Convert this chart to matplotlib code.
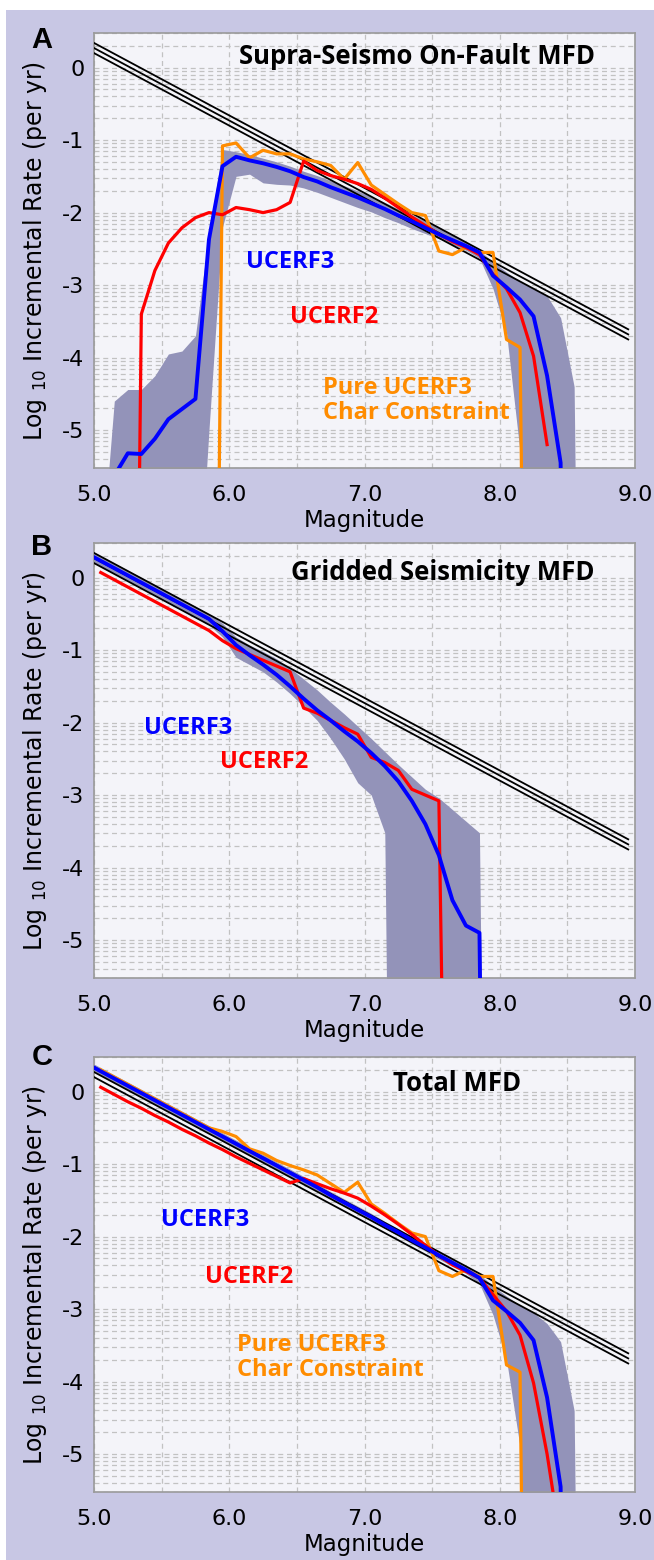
import numpy as np
import matplotlib
matplotlib.use("Agg")
import matplotlib.pyplot as plt
from matplotlib.ticker import FixedLocator, FuncFormatter, NullFormatter
from matplotlib.patches import Rectangle

plt.rcParams['font.family'] = ['DejaVu Sans']
plt.rcParams['mathtext.fontset'] = 'dejavusans'
plt.rcParams['mathtext.default'] = 'regular'

# log10 incremental rates (per yr), on 0.1-magnitude bins.
# Z marks an empty bin (rate ~ 0), nan marks "not plotted"
Z = -20.0
nan = np.nan

mags = [4.95, 5.05, 5.15, 5.25, 5.35, 5.45, 5.55, 5.65, 5.75, 5.85,
        5.95, 6.05, 6.15, 6.25, 6.35, 6.45, 6.55, 6.65, 6.75, 6.85,
        6.95, 7.05, 7.15, 7.25, 7.35, 7.45, 7.55, 7.65, 7.75, 7.85,
        7.95, 8.05, 8.15, 8.25, 8.35, 8.45, 8.55, 8.65]

# Gutenberg-Richter reference lines (b = 1)
gr_mag = [5.0, 8.95]
gr_hi = [0.34, -3.61]
gr_mid = [0.27, -3.68]
gr_lo = [0.20, -3.75]

# ---- A: supra-seismogenic on-fault MFD
a_ucerf3 = [nan, nan, -5.63, -5.32, -5.33, -5.12, -4.85, -4.71, -4.57, -2.37,
            -1.36, -1.23, -1.28, -1.32, -1.37, -1.43, -1.51, -1.57, -1.65, -1.72,
            -1.79, -1.87, -1.95, -2.04, -2.12, -2.21, -2.30, -2.38, -2.46, -2.55,
            -2.87, -3.03, -3.20, -3.43, -4.25, -5.45, Z, nan]
a_ucerf2 = [nan, nan, nan, Z, -3.40, -2.80, -2.42, -2.21, -2.07, -2.00,
            -2.03, -1.93, -1.96, -2.00, -1.96, -1.86, -1.29, -1.42, -1.49, -1.54,
            -1.60, -1.68, -1.80, -1.93, -2.06, -2.18, -2.30, -2.40, -2.48, -2.58,
            -2.85, -3.05, -3.38, -3.98, -5.20, nan, nan, nan]
a_char = [nan, nan, nan, nan, nan, nan, nan, nan, nan, Z,
          -1.08, -1.04, -1.245, -1.14, -1.19, -1.19, -1.26, -1.30, -1.35, -1.54,
          -1.31, -1.62, -1.75, -1.88, -2.00, -2.04, -2.53, -2.58, -2.48, -2.55,
          -2.55, -3.75, -3.86, Z, nan, nan, nan, nan]
a_band_hi = [nan, -6.9, -4.60, -4.44, -4.44, -4.25, -3.95, -3.91, -3.70, -2.28,
             -1.13, -1.16, -1.20, -1.25, -1.30, -1.36, -1.43, -1.49, -1.56, -1.63,
             -1.70, -1.78, -1.86, -1.95, -2.03, -2.12, -2.21, -2.30, -2.40, -2.52,
             -2.68, -2.82, -2.95, -3.05, -3.15, -3.45, -4.40, Z]
a_band_lo = [nan, -8.0, -8.0, -8.0, -8.0, -8.0, -8.0, -8.0, -8.0, -5.0,
             -2.2, -1.50, -1.47, -1.59, -1.61, -1.62, -1.66, -1.72, -1.79, -1.86,
             -1.93, -1.99, -2.07, -2.14, -2.22, -2.29, -2.36, -2.44, -2.52, -2.63,
             -3.05, -3.66, -5.30, Z, Z, Z, Z, Z]

# ---- B: gridded seismicity MFD
b_ucerf3 = [0.33, 0.23, 0.13, 0.03, -0.07, -0.17, -0.27, -0.37, -0.47, -0.57,
            -0.74, -0.93, -1.07, -1.20, -1.34, -1.50, -1.67, -1.83, -1.97, -2.12,
            -2.26, -2.42, -2.60, -2.81, -3.08, -3.40, -3.83, -4.45, -4.80, -4.90,
            Z, nan, nan, nan, nan, nan, nan, nan]
b_ucerf2 = [nan, 0.07, -0.03, -0.13, -0.23, -0.33, -0.43, -0.53, -0.63, -0.73,
            -0.87, -0.98, -1.06, -1.14, -1.22, -1.30, -1.80, -1.87, -1.97, -2.07,
            -2.16, -2.48, -2.55, -2.66, -2.92, -3.00, -3.08, -15.0, nan, nan,
            nan, nan, nan, nan, nan, nan, nan, nan]
b_band_hi = [0.40, 0.30, 0.20, 0.10, 0.00, -0.10, -0.20, -0.30, -0.40, -0.50,
             -0.63, -0.82, -0.93, -1.02, -1.12, -1.25, -1.40, -1.55, -1.72, -1.88,
             -2.05, -2.22, -2.40, -2.58, -2.75, -2.92, -3.04, -3.20, -3.36, -3.52,
             Z, nan, nan, nan, nan, nan, nan, nan]
b_band_lo = [0.25, 0.15, 0.05, -0.05, -0.15, -0.25, -0.35, -0.45, -0.55, -0.65,
             -0.82, -1.10, -1.20, -1.30, -1.44, -1.60, -1.78, -1.97, -2.22, -2.50,
             -2.83, -3.00, -3.52, Z, Z, Z, Z, Z, Z, Z,
             Z, nan, nan, nan, nan, nan, nan, nan]

# ---- C: total MFD
c_ucerf3 = [0.38, 0.28, 0.18, 0.08, -0.02, -0.12, -0.22, -0.32, -0.42, -0.52,
            -0.62, -0.72, -0.82, -0.92, -1.02, -1.12, -1.22, -1.32, -1.43, -1.53,
            -1.63, -1.73, -1.84, -1.94, -2.05, -2.15, -2.26, -2.36, -2.46, -2.57,
            -2.88, -3.03, -3.19, -3.43, -4.22, -5.45, Z, nan]
c_ucerf2 = [nan, 0.06, -0.04, -0.14, -0.23, -0.33, -0.42, -0.52, -0.61, -0.71,
            -0.80, -0.90, -0.99, -1.08, -1.17, -1.26, -1.20, -1.27, -1.34, -1.40,
            -1.47, -1.58, -1.70, -1.83, -1.97, -2.12, -2.26, -2.39, -2.48, -2.57,
            -2.80, -3.03, -3.36, -4.02, -5.00, -6.20, nan, nan]
c_char = [nan, 0.30, 0.20, 0.10, 0.00, -0.10, -0.20, -0.30, -0.40, -0.50,
          -0.55, -0.62, -0.79, -0.85, -0.95, -1.02, -1.08, -1.15, -1.27, -1.39,
          -1.25, -1.55, -1.68, -1.82, -1.95, -2.00, -2.47, -2.55, -2.46, -2.55,
          -2.55, -3.77, -3.87, Z, nan, nan, nan, nan]
c_band_hi = [0.43, 0.33, 0.23, 0.13, 0.03, -0.07, -0.17, -0.27, -0.37, -0.47,
             -0.57, -0.67, -0.77, -0.87, -0.97, -1.07, -1.17, -1.27, -1.38, -1.48,
             -1.58, -1.68, -1.79, -1.89, -2.00, -2.10, -2.21, -2.31, -2.41, -2.52,
             -2.68, -2.82, -2.95, -3.05, -3.20, -3.45, -4.40, Z]
c_band_lo = [0.33, 0.23, 0.13, 0.03, -0.07, -0.17, -0.27, -0.37, -0.47, -0.57,
             -0.67, -0.77, -0.87, -0.97, -1.07, -1.17, -1.27, -1.37, -1.48, -1.58,
             -1.68, -1.78, -1.89, -1.99, -2.10, -2.20, -2.31, -2.41, -2.51, -2.65,
             -3.08, -3.70, -4.90, Z, Z, Z, Z, Z]

x_ticks = [5.0, 6.0, 7.0, 8.0, 9.0]
x_tick_labels = ['5.0', '6.0', '7.0', '8.0', '9.0']
y_decades = [-5, -4, -3, -2, -1, 0]

BG = '#c8c7e4'
FACE = '#f4f4f9'
BAND = '#9393b9'
BLUE = '#0000ff'
RED = '#ff0000'
ORANGE = '#ff8c00'
GRID = '#c2c2c2'

fig = plt.figure(figsize=(6.54, 15.6), dpi=100, facecolor='white')
fig.add_artist(Rectangle((6 / 654, 0), 1, 1 - 10 / 1560, transform=fig.transFigure,
                         facecolor=BG, edgecolor='none', zorder=-10))


def to_rate(v):
    return 10.0 ** np.array(v, dtype=float)


def setup_axes(ax):
    ax.set_facecolor(FACE)
    ax.set_yscale('log')
    ax.set_xlim(5.0, 9.0)
    ax.set_ylim(3e-6, 3.0)
    ax.xaxis.set_major_locator(FixedLocator(x_ticks))
    ax.xaxis.set_minor_locator(FixedLocator([5.5, 6.5, 7.5, 8.5]))
    ax.set_xticklabels(x_tick_labels)
    ax.yaxis.set_major_locator(FixedLocator([10.0 ** d for d in y_decades]))
    ax.yaxis.set_major_formatter(FuncFormatter(lambda v, p: '%d' % round(np.log10(v))))
    ax.yaxis.set_minor_locator(FixedLocator([k * 10.0 ** d for d in range(-6, 1) for k in range(2, 10)]))
    ax.yaxis.set_minor_formatter(NullFormatter())
    ax.grid(True, which='both', color=GRID, linestyle=(0, (4, 3)), linewidth=0.9, zorder=0)
    ax.set_axisbelow(True)
    ax.tick_params(axis='both', which='both', length=0, labelsize=16)
    ax.tick_params(axis='x', pad=12)
    ax.tick_params(axis='y', pad=7)
    for s in ax.spines.values():
        s.set_color('#9a9a9a')
        s.set_linewidth(1.2)
    ax.set_xlabel('Magnitude', fontsize=16.5, labelpad=3)
    ax.set_ylabel('Log $_{10}$ Incremental Rate (per yr)', fontsize=17)
    ax.yaxis.set_label_coords(-0.083, 0.5)


def draw_gr(ax):
    for g in (gr_hi, gr_mid, gr_lo):
        ax.plot(gr_mag, to_rate(g), color='black', linewidth=1.3, zorder=3)


bold = dict(family='Open Sans', fontweight='bold')
axes_h = 435 / 1560
axes_w = 541 / 654
left = 94 / 654

# panel A
axA = fig.add_axes([left, 1 - 468 / 1560, axes_w, axes_h])
setup_axes(axA)
axA.fill_between(mags, to_rate(a_band_lo), to_rate(a_band_hi), color=BAND, linewidth=0, zorder=2)
draw_gr(axA)
axA.plot(mags, to_rate(a_char), color=ORANGE, linewidth=2.3, zorder=4)
axA.plot(mags, to_rate(a_ucerf2), color=RED, linewidth=2.3, zorder=5)
axA.plot(mags, to_rate(a_ucerf3), color=BLUE, linewidth=2.8, zorder=6)
axA.text(0.597, 0.945, 'Supra-Seismo On-Fault MFD', transform=axA.transAxes,
         ha='center', va='center', fontsize=18.5, color='black', **bold)
axA.text(0.362, 0.474, 'UCERF3', transform=axA.transAxes, ha='center', va='center',
         fontsize=17, color=BLUE, **bold)
axA.text(0.444, 0.347, 'UCERF2', transform=axA.transAxes, ha='center', va='center',
         fontsize=17, color=RED, **bold)
axA.text(0.423, 0.156, 'Pure UCERF3\nChar Constraint', transform=axA.transAxes,
         ha='left', va='center', fontsize=17, color=ORANGE, linespacing=1.05, **bold)

# panel B
axB = fig.add_axes([left, 1 - 978 / 1560, axes_w, axes_h])
setup_axes(axB)
axB.fill_between(mags, to_rate(b_band_lo), to_rate(b_band_hi), color=BAND, linewidth=0, zorder=2)
draw_gr(axB)
axB.plot(mags, to_rate(b_ucerf2), color=RED, linewidth=2.3, zorder=5)
axB.plot(mags, to_rate(b_ucerf3), color=BLUE, linewidth=2.8, zorder=6)
axB.text(0.645, 0.933, 'Gridded Seismicity MFD', transform=axB.transAxes,
         ha='center', va='center', fontsize=18.5, color='black', **bold)
axB.text(0.174, 0.575, 'UCERF3', transform=axB.transAxes, ha='center', va='center',
         fontsize=17, color=BLUE, **bold)
axB.text(0.314, 0.497, 'UCERF2', transform=axB.transAxes, ha='center', va='center',
         fontsize=17, color=RED, **bold)

# panel C
axC = fig.add_axes([left, 1 - 1492 / 1560, axes_w, axes_h])
setup_axes(axC)
axC.fill_between(mags, to_rate(c_band_lo), to_rate(c_band_hi), color=BAND, linewidth=0, zorder=2)
draw_gr(axC)
axC.plot(mags, to_rate(c_char), color=ORANGE, linewidth=2.3, zorder=4)
axC.plot(mags, to_rate(c_ucerf2), color=RED, linewidth=2.3, zorder=5)
axC.plot(mags, to_rate(c_ucerf3), color=BLUE, linewidth=2.8, zorder=6)
axC.text(0.671, 0.940, 'Total MFD', transform=axC.transAxes,
         ha='center', va='center', fontsize=18.5, color='black', **bold)
axC.text(0.206, 0.625, 'UCERF3', transform=axC.transAxes, ha='center', va='center',
         fontsize=17, color=BLUE, **bold)
axC.text(0.287, 0.494, 'UCERF2', transform=axC.transAxes, ha='center', va='center',
         fontsize=17, color=RED, **bold)
axC.text(0.264, 0.309, 'Pure UCERF3\nChar Constraint', transform=axC.transAxes,
         ha='left', va='center', fontsize=17, color=ORANGE, linespacing=1.05, **bold)

# panel letters
for letter, ypix in (('A', 40), ('B', 547), ('C', 1057)):
    fig.text(42 / 654, 1 - ypix / 1560, letter, ha='center', va='center',
             fontsize=21, fontweight='bold', family='Liberation Sans')

fig.savefig('out.png', dpi=100, facecolor=fig.get_facecolor())
